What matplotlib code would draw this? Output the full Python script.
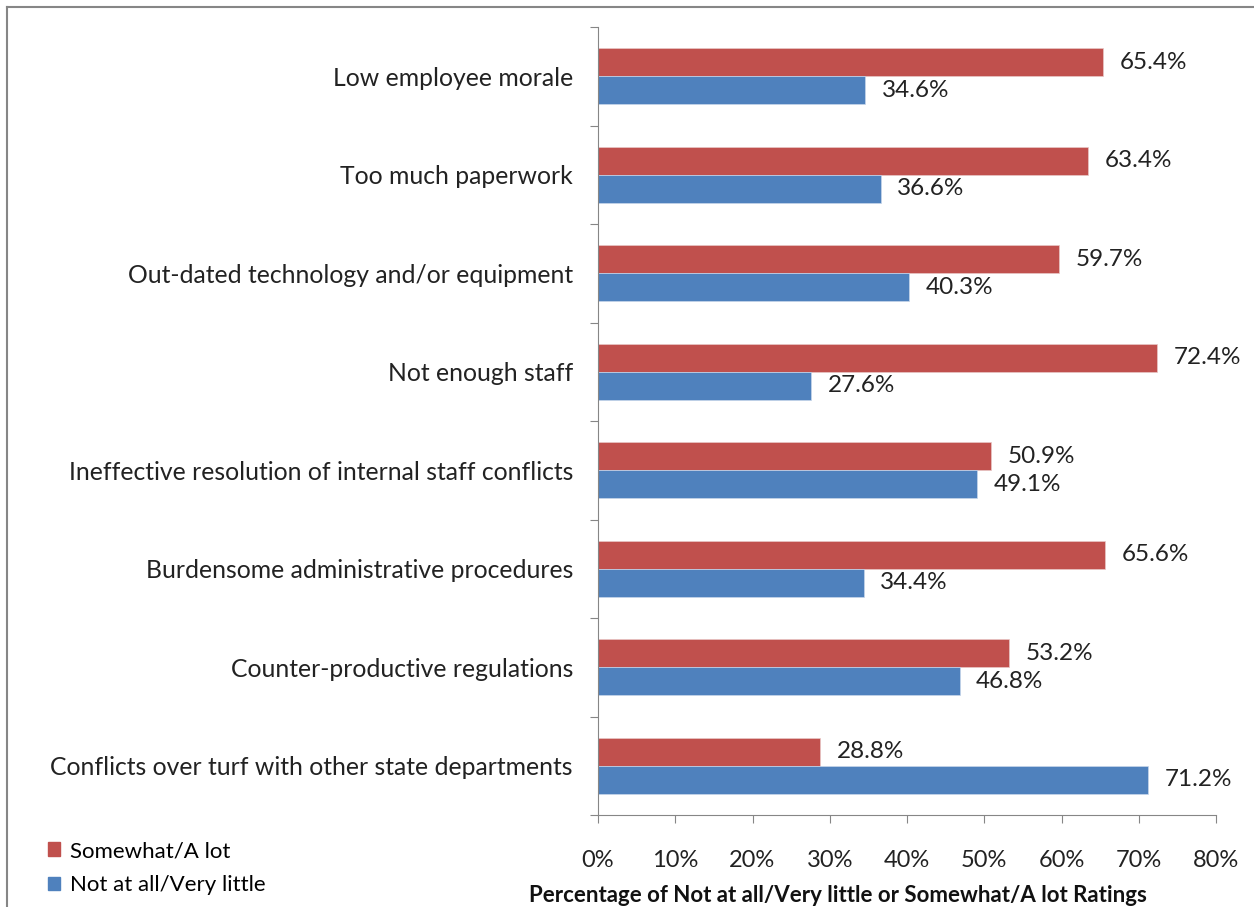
import matplotlib.pyplot as plt
from matplotlib.lines import Line2D
from matplotlib.patches import Patch

categories = ["Low employee morale", "Too much paperwork",
              "Out-dated technology and/or equipment", "Not enough staff",
              "Ineffective resolution of internal staff conflicts",
              "Burdensome administrative procedures",
              "Counter-productive regulations",
              "Conflicts over turf with other state departments"]
somewhat = [65.4, 63.4, 59.7, 72.4, 50.9, 65.6, 53.2, 28.8]
not_at_all = [34.6, 36.6, 40.3, 27.6, 49.1, 34.4, 46.8, 71.2]
xticks = [0, 10, 20, 30, 40, 50, 60, 70, 80]

red = '#C0504D'
blue = '#4F81BD'
gray = '#868686'

plt.rcParams['font.family'] = ['Lato', 'DejaVu Sans']

fig = plt.figure(figsize=(12.54, 9.07), dpi=100)
ax = fig.add_axes([598/1254, 1 - 815/907, 618/1254, 788/907])

h = 0.285
pos = list(range(len(categories)))
ax.barh([p - h/2 for p in pos], somewhat, height=h, color=red, edgecolor='#E8C8C7', linewidth=0.5)
ax.barh([p + h/2 for p in pos], not_at_all, height=h, color=blue, edgecolor='#C8D6EA', linewidth=0.5)

for p, v in zip(pos, somewhat):
    ax.annotate(f"{v:.1f}%", (v, p - h/2), xytext=(12, 0), textcoords='offset points',
                va='center', ha='left', fontsize=17.5, color='#222222')
for p, v in zip(pos, not_at_all):
    ax.annotate(f"{v:.1f}%", (v, p + h/2), xytext=(12, 0), textcoords='offset points',
                va='center', ha='left', fontsize=17.5, color='#222222')

ax.set_xlim(0, 80)
ax.set_ylim(len(categories) - 0.5, -0.5)
ax.set_xticks(xticks)
ax.set_xticklabels([f"{t}%" for t in xticks], fontsize=17, color='#222222')
ax.set_yticks([p - 0.5 for p in pos] + [len(categories) - 0.5])
ax.set_yticklabels([])
ax.set_yticks(pos, minor=True)
ax.set_yticklabels(categories, minor=True, fontsize=17.8, color='#222222')
ax.tick_params(axis='y', which='minor', length=0, pad=18)
ax.tick_params(axis='y', which='major', length=6, direction='out', color=gray)
ax.tick_params(axis='x', length=6, direction='out', color=gray, pad=19)

for s in ['top', 'right']:
    ax.spines[s].set_visible(False)
for s in ['left', 'bottom']:
    ax.spines[s].set_color(gray)

fig.text(838/1254, 1 - 896/907, "Percentage of Not at all/Very little or Somewhat/A lot Ratings",
         ha='center', va='center', fontsize=16, fontweight='bold', color='#111111')

handles = [Patch(color=red, label='Somewhat/A lot'), Patch(color=blue, label='Not at all/Very little')]
fig.legend(handles=handles, loc='upper left', bbox_to_anchor=(28/1254, 1 - 821/907),
           frameon=False, fontsize=16, handlelength=0.55, handleheight=0.55,
           handletextpad=0.45, labelspacing=0.65)

# outer frame of the chart area
fig.add_artist(Line2D([7/1254, 7/1254], [0, 1 - 7/907], color=gray, lw=1.5))
fig.add_artist(Line2D([7/1254, 1], [1 - 7/907, 1 - 7/907], color=gray, lw=1.5))

fig.savefig('out.png', dpi=100)
